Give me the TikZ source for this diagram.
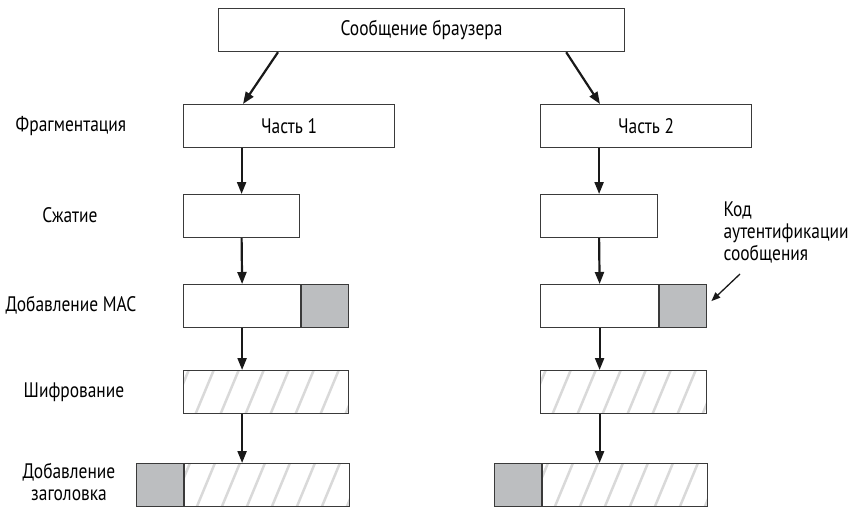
\documentclass[tikz,border=0pt]{standalone}
\usepackage{fontspec}
\setmainfont{PT Sans}[FakeStretch=0.83]
\usetikzlibrary{arrows.meta}
\definecolor{boxline}{HTML}{3A3A3A}
\definecolor{tagfill}{HTML}{BCBEC0}
\definecolor{hatchgray}{HTML}{D9D9D9}
\begin{document}
\begin{tikzpicture}[x=1pt, y=-1pt,
    font=\fontsize{21}{22}\selectfont,
    box/.style={draw=boxline, line width=1.2pt, minimum height=43pt, inner sep=0pt, anchor=north west},
    tag/.style={box, fill=tagfill, minimum width=47pt},
    crypt/.style={box, path picture={
        \foreach \i in {-40,-15,...,200}
            \draw[hatchgray, line width=2.5pt] ([xshift=\i pt, yshift=-5pt]path picture bounding box.south west) -- ++(22,-53);
        }},
    flow/.style={-{Triangle[length=12pt, width=9pt]}, line width=2.2pt, black!90},
    note/.style={-{Triangle[length=9pt, width=7pt]}, line width=1.3pt, black!90}]
    \useasboundingbox (0,0) rectangle (851,507);

    % Ishodnoe soobshchenie
    \node[box, minimum width=406pt] (msg) at (218,8) {Сообщение браузера};

    % Levaya kolonka
    \node[box, minimum width=211pt] (partA) at (183,104) {Часть 1};
    \node[box, minimum width=116pt] (zipA) at (183,194) {};
    \node[box, minimum width=117pt] (macA) at (183,284) {};
    \node[tag] (macAtag) at (macA.north east) {};
    \node[crypt, minimum width=165pt] (encA) at (183,370) {};
    \node[tag] (hdrAtag) at (136,463) {};
    \node[crypt, minimum width=165pt] (hdrA) at (hdrAtag.north east) {};

    % Pravaya kolonka
    \node[box, minimum width=211pt] (partB) at (540,104) {Часть 2};
    \node[box, minimum width=117pt] (zipB) at (540,194) {};
    \node[box, minimum width=118pt] (macB) at (540,284) {};
    \node[tag] (macBtag) at (macB.north east) {};
    \node[crypt, minimum width=166pt] (encB) at (540,370) {};
    \node[tag] (hdrBtag) at (494,463) {};
    \node[crypt, minimum width=165pt] (hdrB) at (hdrBtag.north east) {};

    % Nazvaniya shagov
    \node (fragLbl) at (71,126) {Фрагментация};
    \node (zipLbl) at (70,215) {Сжатие};
    \node (macLbl) at (71,305) {Добавление MAC};
    \node (encLbl) at (74,392) {Шифрование};
    \node[align=center] (hdrLbl) at (69,482) {Добавление\\заголовка};

    % Podpis k MAC
    \node[align=left, anchor=north west] (macNote) at (720,198) {Код\\аутентификации\\сообщения};
    \coordinate (noteTail) at (740,274);

    % Strelki
    \draw[flow] ([xshift=60pt]msg.south west) -- ([xshift=60pt]partA.north west);
    \draw[flow] ([xshift=-59pt]msg.south east) -- ([xshift=60pt]partB.north west);
    \draw[flow] (zipA.north |- partA.south) -- (zipA.north);
    \draw[flow] (zipA.south) -- (macA.north);
    \draw[flow] (macA.south) -- (encA.north -| macA.south);
    \draw[flow] (encA.south -| macA.south) -- (hdrA.north -| macA.south);
    \draw[flow] (zipB.north |- partB.south) -- (zipB.north);
    \draw[flow] (zipB.south) -- (macB.north);
    \draw[flow] (macB.south) -- (encB.north -| macB.south);
    \draw[flow] (encB.south -| macB.south) -- (hdrB.north -| macB.south);
    \draw[note] (noteTail) -- ([xshift=4pt, yshift=5pt]macBtag.east);
\end{tikzpicture}
\end{document}
